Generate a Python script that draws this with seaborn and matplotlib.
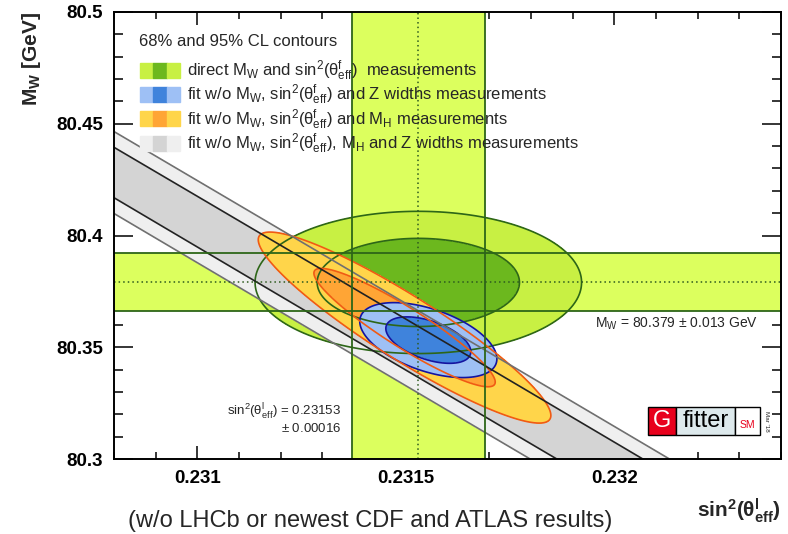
import numpy as np
import matplotlib
matplotlib.use("Agg")
import matplotlib.pyplot as plt
import seaborn as sns
from matplotlib.patches import Patch, Rectangle
from matplotlib.legend_handler import HandlerTuple
from matplotlib.ticker import MultipleLocator

sns.set_theme(style="ticks")
plt.rcParams['font.family'] = ['Liberation Sans', 'DejaVu Sans']
plt.rcParams['mathtext.fontset'] = 'custom'
plt.rcParams['mathtext.rm'] = 'Liberation Sans'
plt.rcParams['mathtext.it'] = 'Liberation Sans:italic'
plt.rcParams['mathtext.bf'] = 'Liberation Sans:bold'

# measurements
mw_val, mw_err = 80.379, 0.013
s2_val, s2_err = 0.23153, 0.00016

# 2D gaussian contours: centre x, centre y, sigma x, sigma y, correlation
contour_names = ["direct", "noZ", "noMH", "noMHZ"]
cen_x = [0.23153, 0.231554, 0.231497, 0.2315]
cen_y = [80.379, 80.3532, 80.3588, 80.3512]
sig_x = [0.00016, 0.0000672, 0.0001434, 0.003]
sig_y = [0.013, 0.00685, 0.01746, 0.33]
corr = [0.0, -0.50, -0.92, -0.99974]

cl_levels = [2.30, 5.99]  # 68% and 95% CL for 2 dof

legend_title = "68% and 95% CL contours"
legend_labels = [
    r"direct M$_{\mathrm{W}}$ and sin$^{\mathrm{2}}$(θ$^{\mathrm{f}}_{\mathrm{eff}}$)  measurements",
    r"fit w/o M$_{\mathrm{W}}$, sin$^{\mathrm{2}}$(θ$^{\mathrm{f}}_{\mathrm{eff}}$) and Z widths measurements",
    r"fit w/o M$_{\mathrm{W}}$, sin$^{\mathrm{2}}$(θ$^{\mathrm{f}}_{\mathrm{eff}}$) and M$_{\mathrm{H}}$ measurements",
    r"fit w/o M$_{\mathrm{W}}$, sin$^{\mathrm{2}}$(θ$^{\mathrm{f}}_{\mathrm{eff}}$), M$_{\mathrm{H}}$ and Z widths measurements",
]

x_ticks = [0.231, 0.2315, 0.232]
x_tick_labels = ["0.231", "0.2315", "0.232"]
y_ticks = [80.3, 80.35, 80.4, 80.45, 80.5]
y_tick_labels = ["80.3", "80.35", "80.4", "80.45", "80.5"]
x_range = (0.2308, 0.2324)
y_range = (80.3, 80.5)

# colours (inner, outer) fills and lines
fill_inner = ["#6cb81e", "#3f83dc", "#ffa535", "#d4d4d4"]
fill_outer = ["#c8f043", "#9ec0f5", "#ffd54a", "#efefef"]
line_inner = ["#2d6618", "#1414a0", "#f05a14", "#222222"]
line_outer = ["#2d6618", "#1414a0", "#f05a14", "#707070"]
fill_z = [2, 5, 4, 3]  # green under gray under orange under blue
band_color = "#dcff5e"
band_line = "#2d6618"


def chi2_map(X, Y, cx, cy, sx, sy, r):
    dx = (X - cx) / sx
    dy = (Y - cy) / sy
    return (dx ** 2 - 2 * r * dx * dy + dy ** 2) / (1 - r ** 2)


fig = plt.figure(figsize=(7.88, 5.34), dpi=100)
ax = fig.add_axes([114 / 788, 1 - 459 / 534, 667 / 788, 447 / 534])

# bands from the direct measurements
ax.axvspan(s2_val - s2_err, s2_val + s2_err, color=band_color, lw=0, zorder=1)
ax.axhspan(mw_val - mw_err, mw_val + mw_err, color=band_color, lw=0, zorder=1)

gx = np.linspace(x_range[0] - 0.00005, x_range[1] + 0.00005, 900)
gy = np.linspace(y_range[0] - 0.005, y_range[1] + 0.005, 700)
X, Y = np.meshgrid(gx, gy)

for i in range(len(contour_names)):
    c2 = chi2_map(X, Y, cen_x[i], cen_y[i], sig_x[i], sig_y[i], corr[i])
    ax.contourf(X, Y, c2, levels=[0] + cl_levels,
                colors=[fill_inner[i], fill_outer[i]], zorder=fill_z[i])
    ax.contour(X, Y, c2, levels=cl_levels,
               colors=[line_inner[i], line_outer[i]], linewidths=1.2, zorder=6)

for v in (s2_val - s2_err, s2_val + s2_err):
    ax.axvline(v, color=band_line, lw=1.3, zorder=6)
for v in (mw_val - mw_err, mw_val + mw_err):
    ax.axhline(v, color=band_line, lw=1.3, zorder=6)
ax.axvline(s2_val, color="#2d5a1e", lw=1.1, ls=(0, (1, 2)), zorder=7)
ax.axhline(mw_val, color="#2d5a1e", lw=1.1, ls=(0, (1, 2)), zorder=7)

ax.set_xlim(*x_range)
ax.set_ylim(*y_range)
ax.set_xticks(x_ticks)
ax.set_xticklabels(x_tick_labels)
ax.set_yticks(y_ticks)
ax.set_yticklabels(y_tick_labels)
ax.xaxis.set_minor_locator(MultipleLocator(0.0001))
ax.yaxis.set_minor_locator(MultipleLocator(0.01))
ax.tick_params(axis="both", which="both", direction="in", top=True, right=True,
               color="black", width=1.1)
ax.tick_params(axis="x", which="major", length=9.5, pad=8)
ax.tick_params(axis="x", which="minor", length=5)
ax.tick_params(axis="y", which="major", length=13.5, pad=8)
ax.tick_params(axis="y", which="minor", length=6.5)
for lab in ax.get_xticklabels() + ax.get_yticklabels():
    lab.set_fontweight("bold")
    lab.set_fontsize(13.5)
    lab.set_color("black")
for sp in ax.spines.values():
    sp.set_linewidth(1.4)
    sp.set_color("black")
    sp.set_zorder(10)

# legend
ax.text(0.0375, 1 - (42 - 12) / 447, legend_title, transform=ax.transAxes,
        ha="left", va="center", fontsize=12, zorder=12)
handles = [(Patch(color=o), Patch(color=n), Patch(color=o))
           for o, n in zip(fill_outer, fill_inner)]
leg = ax.legend(handles, legend_labels, handler_map={tuple: HandlerTuple(ndivide=None, pad=0)},
                frameon=False, loc="upper left", bbox_to_anchor=(0.039, 0.896), borderpad=0,
                borderaxespad=0, fontsize=12, handlelength=2.4, handleheight=1.0,
                handletextpad=0.4, labelspacing=0.0)
leg.set_zorder(12)

ax.text(0.9655, 0.302, r"M$_{\mathrm{W}}$ = 80.379 $\pm$ 0.013 GeV", transform=ax.transAxes,
        ha="right", va="center", fontsize=10, zorder=12)
ax.text(0.341, 0.105, r"sin$^{\mathrm{2}}$(θ$^{\mathrm{l}}_{\mathrm{eff}}$) = 0.23153",
        transform=ax.transAxes, ha="right", va="center", fontsize=9.5, zorder=12)
ax.text(0.341, 0.069, r"$\pm$ 0.00016", transform=ax.transAxes,
        ha="right", va="center", fontsize=9.5, zorder=12)

# Gfitter logo
logo = [(0.8006, 0.8426, "#e8001c"), (0.8426, 0.931, "#dde9ec"), (0.931, 0.9685, "white")]
for x0, x1, fc in logo:
    ax.add_patch(Rectangle((x0, 0.0537), x1 - x0, 0.0626, transform=ax.transAxes,
                           facecolor=fc, edgecolor="black", lw=1.0, zorder=12))
ax.text(0.8216, 0.085, "G", transform=ax.transAxes, ha="center", va="center",
        fontsize=17, color="white", zorder=13)
ax.text(0.8868, 0.085, "fitter", transform=ax.transAxes, ha="center", va="center",
        fontsize=17, color="black", zorder=13)
ax.text(0.9498, 0.075, "SM", transform=ax.transAxes, ha="center", va="center",
        fontsize=7.5, color="#e8001c", zorder=13)
ax.text(0.978, 0.085, "Mar '18", transform=ax.transAxes, ha="center", va="center",
        fontsize=4.5, rotation=-90, zorder=13)

# axis titles
ax.text(-0.124, 1.0, r"M$_{\mathbf{W}}$ [GeV]", transform=ax.transAxes, rotation=90,
        ha="center", va="top", fontsize=15, fontweight="bold")
fig.text(781 / 788, 1 - 511 / 534, r"sin$\mathbf{^{2}}$(θ$\mathbf{^{l}_{eff}}$)",
         ha="right", va="center", fontsize=15, fontweight="bold")
fig.text(370 / 788, 1 - 521 / 534, "(w/o LHCb or newest CDF and ATLAS results)",
         ha="center", va="center", fontsize=17)

fig.savefig("out.png", dpi=100)
